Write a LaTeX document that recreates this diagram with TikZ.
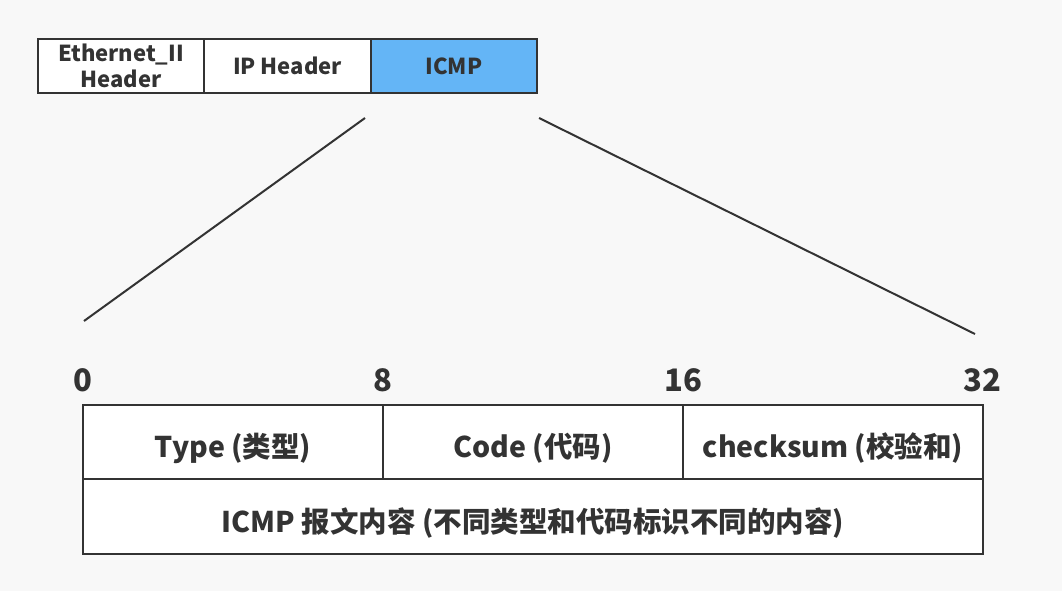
\documentclass[tikz,border=0pt]{standalone}
\usepackage{fontspec}
\setmainfont{Noto Sans CJK SC}
\begin{document}
\begin{tikzpicture}[x=1pt,y=-1pt,
  every node/.style={font=\bfseries, text=txt},
  cell/.style={draw=edge, line width=2pt, fill=white, inner sep=0pt, anchor=north west},
  topcell/.style={cell, minimum height=54pt, font=\bfseries\fontsize{22}{26}\selectfont},
  fieldcell/.style={cell, text height=33pt, text depth=2pt, font=\bfseries\fontsize{28.5}{32}\selectfont},
  bitnum/.style={font=\bfseries\fontsize{31}{34}\selectfont, anchor=base},
  zoomline/.style={draw=edge, line width=2pt}
]
\definecolor{bg}{HTML}{F8F8F8}
\definecolor{edge}{HTML}{333333}
\definecolor{txt}{HTML}{333333}
\definecolor{icmpblue}{HTML}{64B5F6}
\useasboundingbox[fill=bg] (0,0) rectangle (1062,591);

% top header row
\node[topcell, minimum width=166pt, align=center] (eth) at (37,38) {Ethernet\_II\\Header};
\node[topcell, minimum width=167pt] (ip) at (203,38) {IP Header};
\node[topcell, minimum width=166pt, fill=icmpblue] (icmp) at (370,38) {ICMP};

% zoom lines
\coordinate (zl1) at (365,118);
\coordinate (zl2) at (84,321);
\coordinate (zr1) at (539,118);
\coordinate (zr2) at (975,334);
\draw[zoomline] (zl1) -- (zl2);
\draw[zoomline] (zr1) -- (zr2);

% bit numbers
\node[bitnum] (n0) at (83,391) {0};
\node[bitnum] (n8) at (383,391) {8};
\node[bitnum] (n16) at (683,391) {16};
\node[bitnum] (n32) at (982,391) {32};

% ICMP fields
\node[fieldcell, minimum width=300pt, minimum height=74pt] (type) at (82,404) {Type (类型)};
\node[fieldcell, minimum width=300pt, minimum height=74pt] (code) at (382,404) {Code (代码)};
\node[fieldcell, minimum width=300pt, minimum height=74pt] (cks) at (682,404) {checksum (校验和)};
\node[fieldcell, minimum width=900pt, minimum height=75pt] (body) at (82,478) {ICMP 报文内容 (不同类型和代码标识不同的内容)};
\end{tikzpicture}
\end{document}
